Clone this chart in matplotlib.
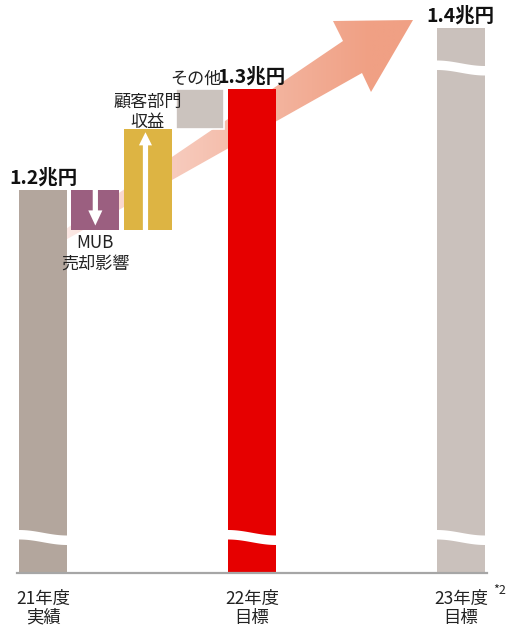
import numpy as np
import matplotlib
matplotlib.use("Agg")
import matplotlib.pyplot as plt
from matplotlib.patches import Polygon, FancyArrow

plt.rcParams['font.family'] = ['Noto Sans CJK JP', 'DejaVu Sans']

# ---------------- data ----------------
years = ["21年度\n実績", "22年度\n目標", "23年度\n目標"]
year_values = [1.20, 1.30, 1.36]          # bar heights as drawn (trillion yen, broken axis)
year_labels = ["1.2兆円", "1.3兆円", "1.4兆円"]
year_colors = ["#B3A69D", "#E60000", "#CAC1BC"]

bridge_items = ["MUB\n売却影響", "顧客部門\n収益", "その他"]
bridge_deltas = [-0.04, 0.10, 0.04]
bridge_colors = ["#9B5F80", "#DDB443", "#CBC3BE"]

# ---------------- layout ----------------
W, H = 510, 628
fig = plt.figure(figsize=(W / 100, H / 100), dpi=100)

year_pos = [0, 4, 8]
bridge_pos = [1, 2, 3]
bar_w = 0.92
base = 0.82

# decoration layer (below) in pixel coordinates
deco = fig.add_axes([0, 0, 1, 1], zorder=0)
deco.set_xlim(0, W)
deco.set_ylim(H, 0)
deco.axis("off")

ax = fig.add_axes([17 / W, (H - 573) / H, 470 / W, 573 / H], zorder=1)
ax.patch.set_alpha(0)
ax.set_xlim(-0.5, 8.5)
ax.set_ylim(base, 1.2 + 190 / 1010)

# big gradient arrow (behind bars)
arrow_pts = [(50, 239.7), (343, 41), (333, 21), (413, 20), (371, 92), (362, 73), (50, 248.7)]
poly = Polygon(arrow_pts, closed=True, facecolor="none", edgecolor="none",
               transform=deco.transData)
deco.add_patch(poly)
xs = np.linspace(0, W, 400)
t = np.clip((xs - 70) / 300.0, 0, 1) ** 0.85
c0 = np.array([252, 232, 228]) / 255.0
c1 = np.array([240, 160, 132]) / 255.0
grad = (c0[None, :] * (1 - t[:, None]) + c1[None, :] * t[:, None])[None, :, :]
grad = np.repeat(grad, 2, axis=0)
im = deco.imshow(grad, extent=(0, W, H, 0), aspect="auto", interpolation="bilinear")
im.set_clip_path(poly)

# main bars
ax.bar(year_pos, [v - base for v in year_values], bottom=base, width=bar_w,
       color=year_colors, zorder=2)
for x, v, lab in zip(year_pos, year_values, year_labels):
    ax.annotate(lab, (x, v), xytext=(0, 8.8), textcoords="offset points",
                ha="center", va="center", fontsize=14, fontweight="bold",
                color="#111111")

# bridge (waterfall) bars
level = year_values[0]
bottoms, tops = [], []
for d in bridge_deltas:
    lo, hi = min(level, level + d), max(level, level + d)
    bottoms.append(lo)
    tops.append(hi)
    level += d
ax.bar(bridge_pos, [t_ - b for b, t_ in zip(bottoms, tops)], bottom=bottoms,
       width=bar_w, color=bridge_colors, edgecolor=["none", "none", "white"],
       linewidth=1.2, zorder=2)

# white arrows inside bridge bars
ax.add_patch(FancyArrow(bridge_pos[0], tops[0], 0, -(tops[0] - bottoms[0]) + 0.0045,
                        width=0.1, head_width=0.27, head_length=0.0150,
                        length_includes_head=True, color="white", zorder=3, lw=0))
ax.add_patch(FancyArrow(bridge_pos[1] - 0.04, bottoms[1], 0, (tops[1] - bottoms[1]) - 0.003,
                        width=0.1, head_width=0.25, head_length=0.0130,
                        length_includes_head=True, color="white", zorder=3, lw=0))

# bridge labels
ax.annotate(bridge_items[0], (bridge_pos[0], bottoms[0]), xytext=(0, -16.5),
            textcoords="offset points", ha="center", va="center", fontsize=12.3,
            linespacing=1.2, color="#222222")
ax.annotate(bridge_items[1], (bridge_pos[1], tops[1]), xytext=(0, 12.5),
            textcoords="offset points", ha="center", va="center", fontsize=12.3,
            linespacing=1.2, color="#222222")
ax.annotate(bridge_items[2], (bridge_pos[2], tops[2]), xytext=(-3, 7.2),
            textcoords="offset points", ha="center", va="center", fontsize=12.3,
            color="#222222")

# axis styling
for s in ["top", "right", "left"]:
    ax.spines[s].set_visible(False)
ax.spines["bottom"].set_color("#A6A6A6")
ax.spines["bottom"].set_linewidth(1.6)
ax.set_yticks([])
ax.set_xticks(year_pos)
ax.set_xticklabels(years, fontsize=12.5, linespacing=1.08, color="#222222")
ax.tick_params(axis="x", length=0, pad=12)
fig.text(500 / W, 1 - 591 / H, "*2", fontsize=9, ha="center", va="center", color="#222222")

# break marks (top layer, pixel coords)
top = fig.add_axes([0, 0, 1, 1], zorder=2)
top.set_xlim(0, W)
top.set_ylim(H, 0)
top.axis("off")
fig.canvas.draw()


def px_x(xd):
    return ax.transData.transform((xd, base))[0]


def wave(xl, xr, y0, drop=5.5, thick=9.5):
    xx = np.linspace(xl - 2, xr + 2, 60)
    tt = np.clip((xx - xl) / (xr - xl), 0, 1)
    yt = y0 + drop * (1 - np.cos(np.pi * tt)) / 2
    pts = list(zip(xx, yt)) + list(zip(xx[::-1], (yt + thick)[::-1]))
    top.add_patch(Polygon(pts, closed=True, facecolor="white", edgecolor="none"))


for x in year_pos:
    xl, xr = px_x(x - bar_w / 2), px_x(x + bar_w / 2)
    wave(xl, xr, 530)
xl, xr = px_x(year_pos[2] - bar_w / 2), px_x(year_pos[2] + bar_w / 2)
wave(xl, xr, 60.5)

fig.savefig("out.png", dpi=100)
